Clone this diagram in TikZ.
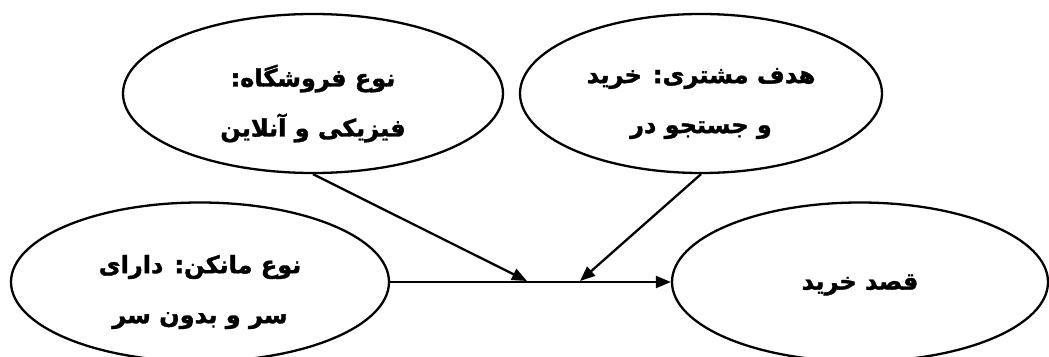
\documentclass[tikz,border=0pt]{standalone}
\usepackage{fontspec}
\newfontfamily\arabicfont[Script=Arabic,BoldFeatures={FakeBold=1.5}]{DejaVu Sans}
\TeXXeTstate=1
\usetikzlibrary{shapes.geometric,arrows.meta}
\tikzset{
  oval/.style={draw, ellipse, line width=2.3pt, minimum width=380pt, minimum height=159pt, inner sep=0pt},
  txt/.style={align=center, inner sep=0pt, font=\arabicfont\bfseries\fontsize{24}{50}\selectfont},
  conn/.style={line width=2.3pt, -{Triangle[length=15pt,width=12pt]}}
}
\begin{document}
\begin{tikzpicture}[x=1pt,y=-1pt]
\useasboundingbox (0,0) rectangle (1049,356);
\node[oval] (store) at (313,93.5) {};
\node[oval, minimum width=362pt] (goal) at (701,93.5) {};
\node[oval, minimum width=378pt] (mann) at (200,282) {};
\node[oval, minimum width=376pt] (intent) at (860,282) {};
\node[txt] (storet) at ([yshift=-10pt]store.center) {\beginR نوع فروشگاه:\endR\\\beginR فیزیکی و آنلاین\endR};
\node[txt] (goalt) at ([yshift=-10pt]goal.center) {\beginR هدف مشتری: خرید\endR\\\beginR و جستجو در\endR};
\node[txt] (mannt) at ([yshift=-10pt]mann.center) {\beginR نوع مانکن: دارای\endR\\\beginR سر و بدون سر\endR};
\node[txt] (intentt) at ([yshift=-3pt]intent.center) {\beginR قصد خرید\endR};
\coordinate (t1) at (527,281);
\coordinate (t2) at (580,281);
\draw[conn] (mann.east) -- (intent.west);
\draw[conn] (store.south) -- (t1);
\draw[conn] (goal.south) -- (t2);
\end{tikzpicture}
\end{document}
